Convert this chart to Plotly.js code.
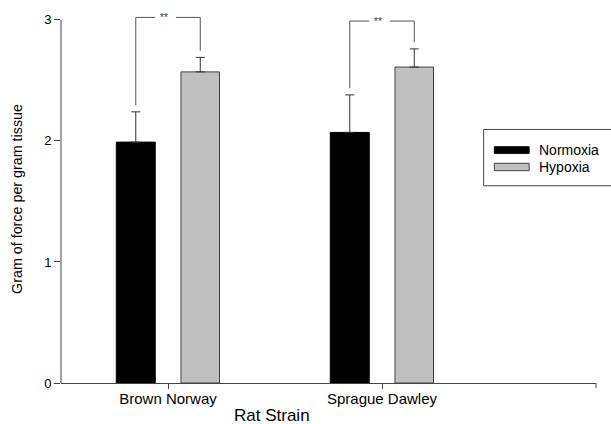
<!DOCTYPE html>
<html>
<head>
<meta charset="utf-8">
<script src="https://cdn.plot.ly/plotly-3.0.1.min.js"></script>
<style>html,body{margin:0;padding:0;background:#fff;}#chart{width:611px;height:424px;}</style>
</head>
<body>
<div id="chart"></div>
<script>
// ---- data ----
const categories = ["Brown Norway", "Sprague Dawley"];
const seriesNames = ["Normoxia", "Hypoxia"];
const normoxia = [1.99, 2.07];
const normoxiaErr = [0.25, 0.31];
const hypoxia = [2.57, 2.61];
const hypoxiaErr = [0.12, 0.15];
const sigLabels = ["**", "**"];
const yTicks = [0, 1, 2, 3];

// ---- styling / layout constants ----
const FONT = "Arial, 'Liberation Sans', sans-serif";
const AX = "#444";
const barW = [0.182, 0.18];
const barOff = [-0.2416, 0.0607];
const bracketTop = [3.02, 2.99];
const bracketPad = 0.055;

const traces = [
  {
    type: "bar", name: seriesNames[0], x: categories, y: normoxia,
    width: barW[0], offset: barOff[0],
    marker: {color: "#000000", line: {color: "#000000", width: 1}},
    error_y: {type: "data", array: normoxiaErr, arrayminus: normoxia.map(() => 0), symmetric: false,
              color: "#333", thickness: 1, width: 4.5},
    showlegend: false, hoverinfo: "none"
  },
  {
    type: "bar", name: seriesNames[1], x: categories, y: hypoxia,
    width: barW[1], offset: barOff[1],
    marker: {color: "#c0c0c0", line: {color: "#404040", width: 1}},
    error_y: {type: "data", array: hypoxiaErr, arrayminus: hypoxia.map(() => 0), symmetric: false,
              color: "#333", thickness: 1, width: 4.5},
    showlegend: false, hoverinfo: "none"
  }
];

const shapes = [];
const annotations = [];
const lineStyle = {color: "#555", width: 1};
categories.forEach((c, i) => {
  const xL = i + barOff[0] + barW[0] / 2;
  const xR = i + barOff[1] + barW[1] / 2;
  const top = bracketTop[i];
  const yL = normoxia[i] + normoxiaErr[i] + bracketPad;
  const yR = hypoxia[i] + hypoxiaErr[i] + bracketPad;
  const gapL = i - 0.06, gapR = i + 0.037;
  shapes.push({type: "line", xref: "x", yref: "y", x0: xL, x1: xL, y0: yL, y1: top, line: lineStyle});
  shapes.push({type: "line", xref: "x", yref: "y", x0: xL, x1: gapL, y0: top, y1: top, line: lineStyle});
  shapes.push({type: "line", xref: "x", yref: "y", x0: gapR, x1: xR, y0: top, y1: top, line: lineStyle});
  shapes.push({type: "line", xref: "x", yref: "y", x0: xR, x1: xR, y0: top, y1: yR, line: lineStyle});
  annotations.push({xref: "x", yref: "y", x: i - 0.02, y: top, text: sigLabels[i], showarrow: false,
                    font: {family: FONT, size: 10, color: "#333"}, xanchor: "center", yanchor: "middle"});
});

// y axis line (ends at top tick)
shapes.push({type: "line", xref: "paper", yref: "y", x0: 0, x1: 0, y0: 0, y1: yTicks[yTicks.length - 1],
             line: {color: AX, width: 1}});
// end tick of x axis
shapes.push({type: "line", xref: "paper", yref: "paper", x0: 1, x1: 1, y0: 0, y1: -0.0136,
             line: {color: AX, width: 1}});

// manual legend
shapes.push({type: "rect", xref: "paper", yref: "paper", x0: 0.790, x1: 1.035, y0: 0.536, y1: 0.689,
             line: {color: "#444", width: 1}, fillcolor: "rgba(0,0,0,0)"});
shapes.push({type: "rect", xref: "paper", yref: "paper", x0: 0.810, x1: 0.875, y0: 0.624, y1: 0.642,
             line: {color: "#000", width: 1}, fillcolor: "#000"});
shapes.push({type: "rect", xref: "paper", yref: "paper", x0: 0.810, x1: 0.875, y0: 0.577, y1: 0.597,
             line: {color: "#404040", width: 1}, fillcolor: "#c0c0c0"});
annotations.push({xref: "paper", yref: "paper", x: 0.890, y: 0.634, text: seriesNames[0], showarrow: false,
                  xanchor: "left", yanchor: "middle", font: {family: FONT, size: 14, color: "#000"}});
annotations.push({xref: "paper", yref: "paper", x: 0.890, y: 0.588, text: seriesNames[1], showarrow: false,
                  xanchor: "left", yanchor: "middle", font: {family: FONT, size: 14, color: "#000"}});
// x axis title
annotations.push({xref: "paper", yref: "paper", x: 0.394, y: -0.087, text: "Rat Strain", showarrow: false,
                  xanchor: "center", yanchor: "middle", font: {family: FONT, size: 17, color: "#000"}});

const layout = {
  width: 611, height: 424,
  margin: {l: 61, r: 15, t: 15, b: 41, pad: 0},
  paper_bgcolor: "#fff", plot_bgcolor: "#fff",
  barmode: "overlay",
  showlegend: false,
  font: {family: FONT, color: "#000"},
  xaxis: {
    type: "category", range: [-0.5, 2.0], showgrid: false, zeroline: false,
    showline: true, linecolor: AX, linewidth: 1,
    ticks: "outside", ticklen: 5, tickcolor: AX, tickwidth: 1, ticklabelstandoff: -3,
    tickfont: {family: FONT, size: 15, color: "#000"}
  },
  yaxis: {
    range: [0, 3.04], showgrid: false, zeroline: false, showline: false,
    tickmode: "array", tickvals: yTicks, ticktext: yTicks.map(String),
    ticks: "outside", ticklen: 6, tickcolor: AX, tickwidth: 1,
    tickfont: {family: FONT, size: 13, color: "#000"},
    title: {text: "Gram of force per gram tissue", font: {family: FONT, size: 14.3, color: "#000"}, standoff: 18}
  },
  shapes: shapes,
  annotations: annotations
};

Plotly.newPlot("chart", traces, layout, {displayModeBar: false, staticPlot: true});
</script>
</body>
</html>
